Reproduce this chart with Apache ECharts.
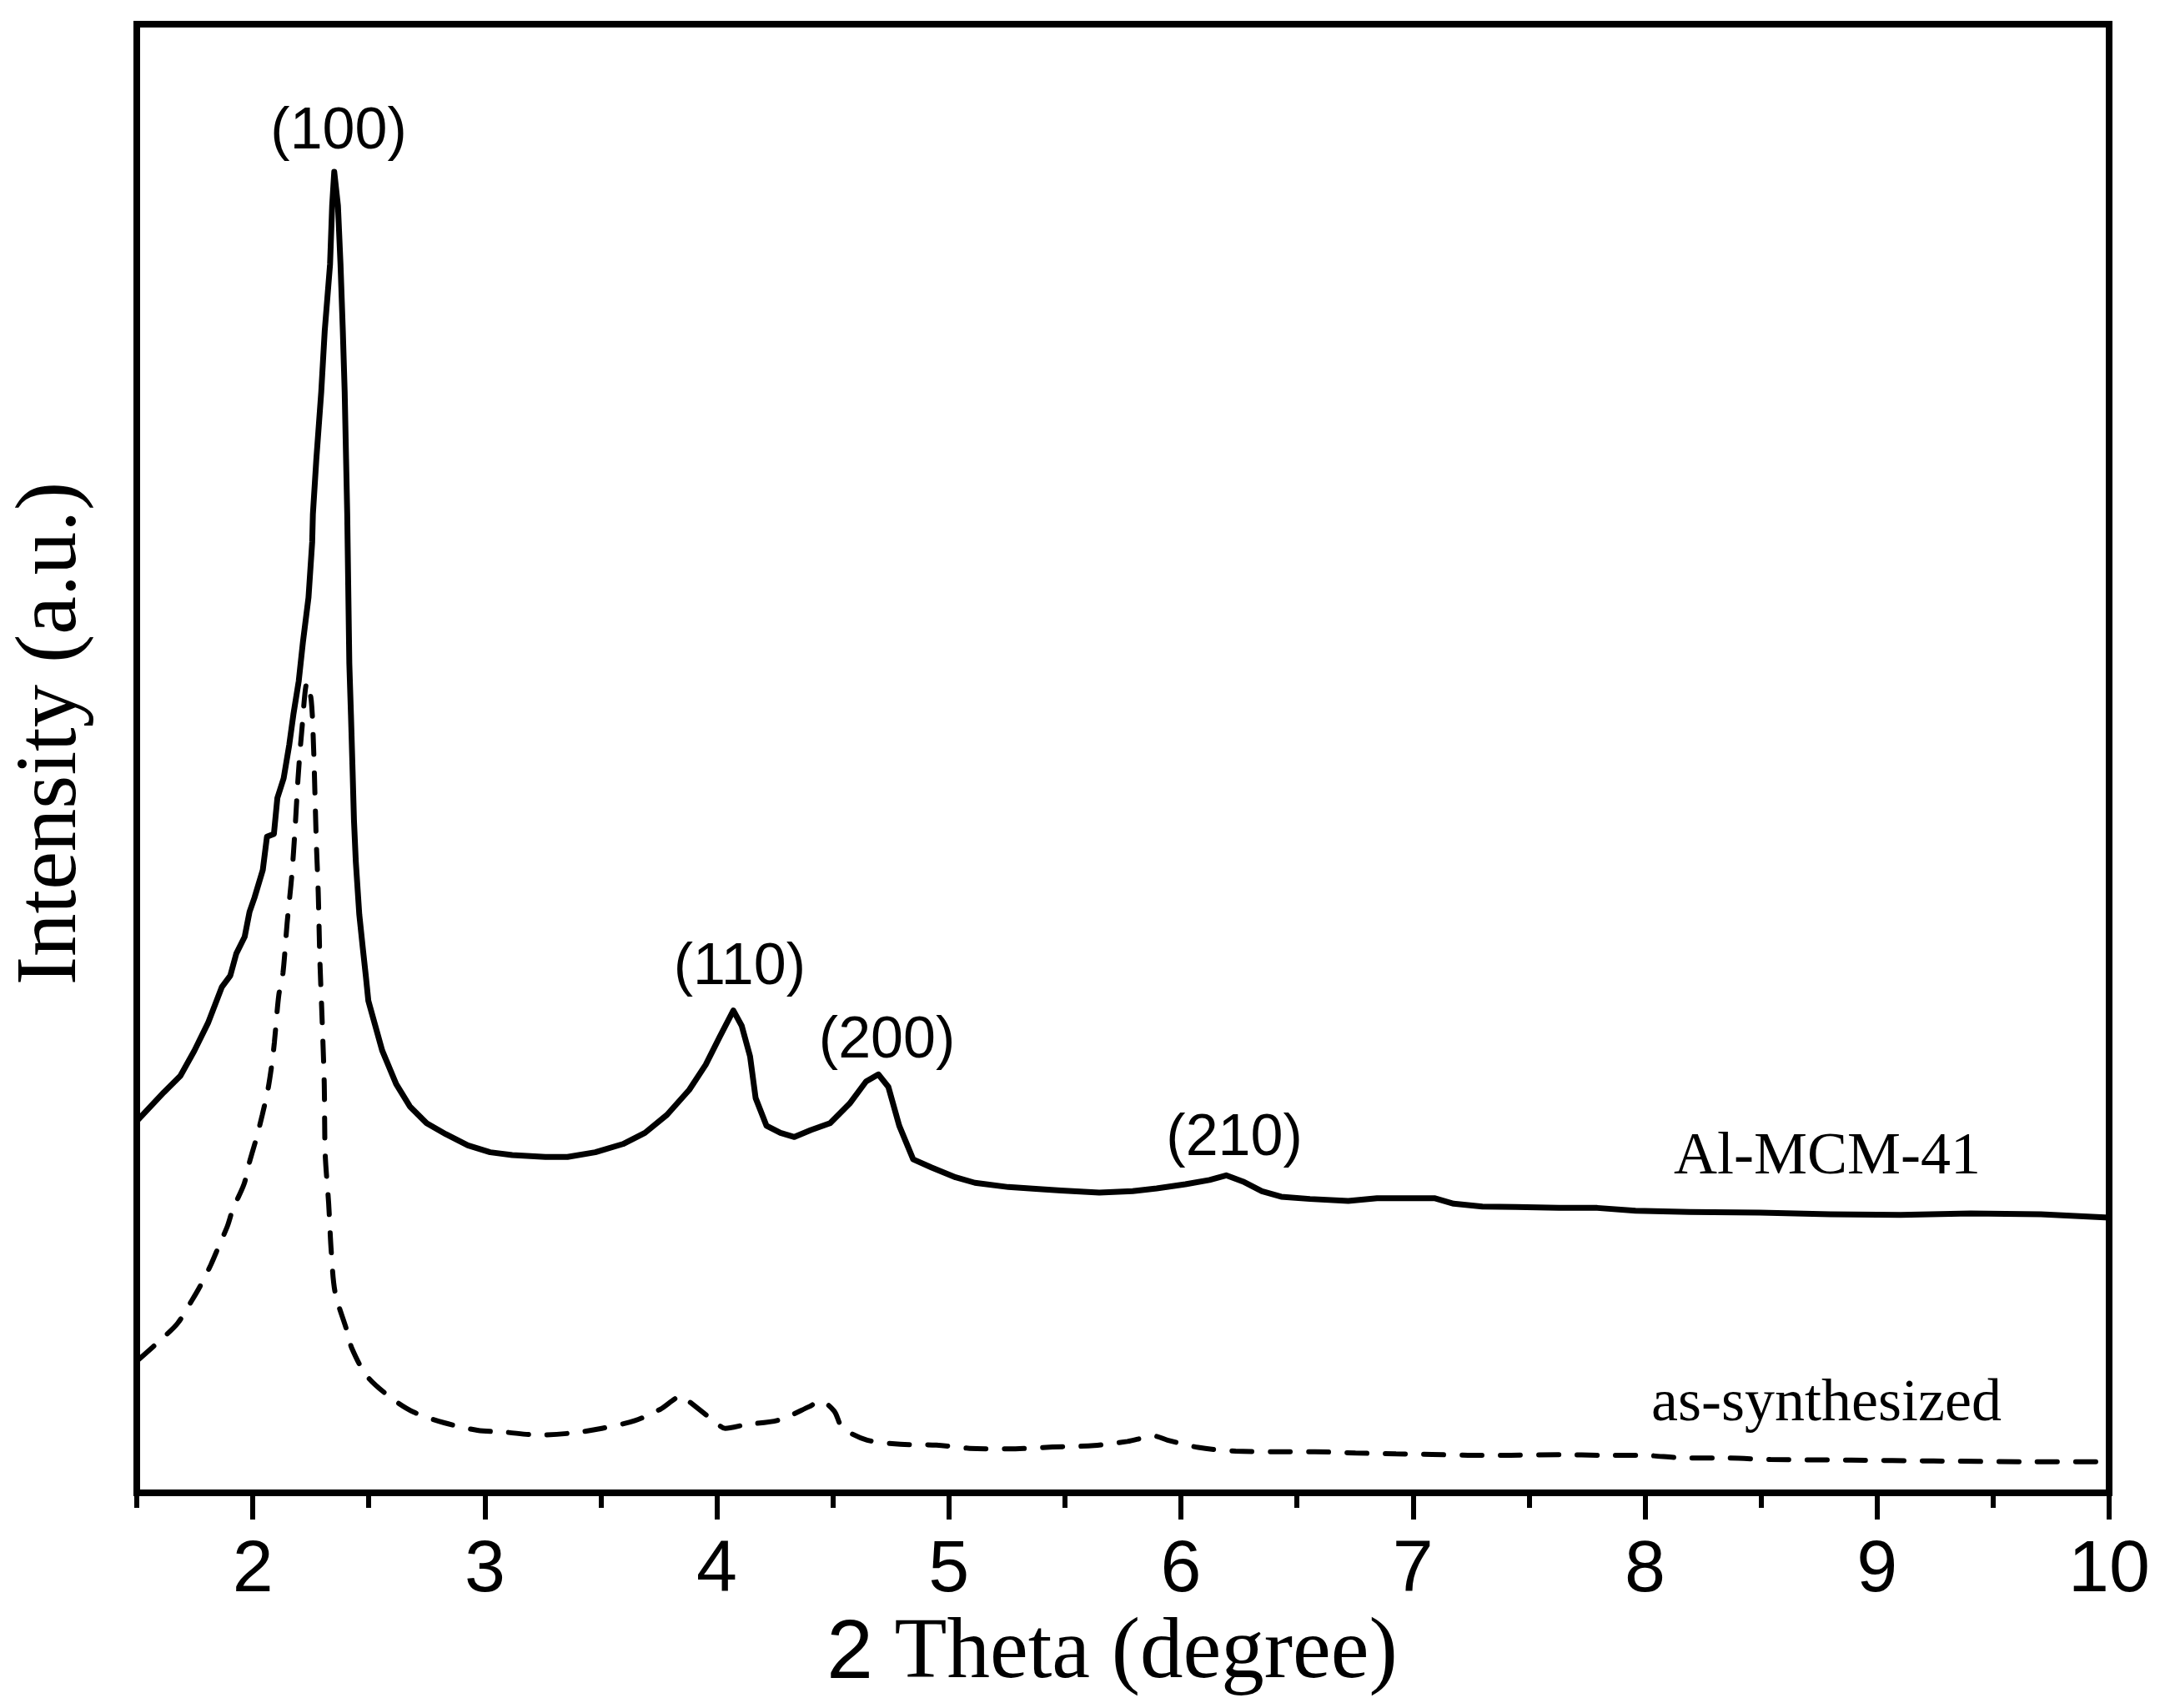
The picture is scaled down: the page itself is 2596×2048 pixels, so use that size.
<!DOCTYPE html>
<html>
<head>
<meta charset="utf-8">
<title>XRD Al-MCM-41</title>
<script src="https://cdn.jsdelivr.net/npm/echarts@6/dist/echarts.min.js"></script>
<style>
  html, body { margin: 0; padding: 0; background: #fff; }
  #chart { width: 2596px; height: 2048px; }
</style>
</head>
<body>
<div id="chart"></div>
<script>
// 2 theta (degree) / intensity (a.u., 0-100 of the frame height)
const alMcmX = [1.504,1.616,1.688,1.748,1.807,1.867,1.903,1.929,1.965,1.986,2.007,2.043,2.061,2.091,2.106,2.133,2.157,2.175,2.198,2.216,2.240,2.256,2.259,2.274,2.295,2.310,2.333,2.342,2.351,2.367,2.378,2.388,2.396,2.402,2.407,2.412,2.416,2.423,2.430,2.436,2.444,2.459,2.474,2.487,2.498,2.558,2.618,2.677,2.749,2.832,2.927,3.023,3.118,3.261,3.356,3.476,3.595,3.690,3.785,3.881,3.952,4.012,4.071,4.107,4.143,4.167,4.214,4.274,4.334,4.405,4.488,4.572,4.643,4.696,4.739,4.786,4.846,4.926,5.029,5.112,5.256,5.401,5.483,5.648,5.792,5.895,6.019,6.123,6.195,6.267,6.349,6.432,6.556,6.721,6.845,6.968,7.092,7.175,7.299,7.443,7.629,7.794,7.959,8.193,8.495,8.798,9.101,9.403,9.706,10.0];
const alMcmY = [25.38,27.26,28.39,30.10,31.99,34.45,35.21,36.72,37.86,39.56,40.51,42.40,44.67,44.86,47.32,48.65,50.92,53.00,55.27,57.92,60.95,64.74,66.63,70.41,74.96,79.12,83.66,87.64,89.95,87.64,83.66,79.12,74.96,70.41,66.63,60.95,56.47,53.00,49.22,45.81,42.97,39.37,37.10,35.21,33.50,30.10,27.83,26.31,25.17,24.42,23.66,23.19,23.00,22.87,22.87,23.19,23.75,24.51,25.74,27.44,29.15,31.04,32.84,31.80,29.72,26.88,24.99,24.51,24.23,24.70,25.17,26.50,28.01,28.49,27.64,24.99,22.71,22.15,21.48,21.11,20.82,20.67,20.59,20.44,20.54,20.73,21.01,21.30,21.62,21.20,20.54,20.16,20.01,19.88,20.06,20.06,20.06,19.69,19.49,19.46,19.40,19.40,19.21,19.12,19.08,18.97,18.93,19.03,18.97,18.74];

const asSynX = [1.509,1.616,1.676,1.736,1.771,1.819,1.855,1.891,1.914,1.962,1.986,2.017,2.041,2.065,2.081,2.093,2.112,2.130,2.148,2.168,2.183,2.195,2.211,2.234,2.252,2.262,2.268,2.274,2.282,2.289,2.298,2.308,2.312,2.327,2.338,2.355,2.403,2.427,2.492,2.599,2.694,2.825,2.968,3.087,3.230,3.374,3.504,3.647,3.755,3.850,3.886,3.993,4.036,4.124,4.267,4.398,4.446,4.505,4.541,4.648,4.791,4.946,5.089,5.256,5.447,5.626,5.769,5.886,5.942,6.074,6.236,6.411,6.577,6.752,6.927,7.082,7.237,7.422,7.639,7.814,7.981,8.178,8.344,8.541,8.889,9.244,9.630,10.0];
const asSynY = [9.09,10.60,11.54,13.06,14.01,15.52,16.85,18.17,19.31,21.01,22.53,24.23,25.74,27.44,29.06,30.66,33.88,35.39,38.80,42.02,45.43,48.65,51.86,55.18,53.95,50.73,47.51,44.20,40.89,36.34,32.56,27.83,23.09,19.69,16.47,13.63,11.17,9.84,7.95,6.43,5.49,4.77,4.26,4.13,3.94,4.07,4.39,4.92,5.68,6.59,6.15,4.83,4.39,4.64,4.96,5.87,6.25,5.58,4.45,3.59,3.31,3.25,3.03,2.99,3.12,3.22,3.50,3.86,3.59,3.09,2.84,2.80,2.80,2.71,2.65,2.61,2.56,2.56,2.60,2.56,2.56,2.37,2.37,2.27,2.23,2.17,2.12,2.12];

// x axis ticks
const majorTicks = [2, 3, 4, 5, 6, 7, 8, 9, 10];
const minorTicks = [1.5, 2.5, 3.5, 4.5, 5.5, 6.5, 7.5, 8.5, 9.5];

// reflection labels (anchored at the bottom of the digits)
const peakNames = ['(100)', '(110)', '(200)', '(210)'];
const peakX = [2.370, 4.098, 4.733, 6.230];
const peakY = [91.3, 34.36, 29.38, 22.71];

// sample labels (left edge, baseline)
const sampleNames = ['Al-MCM-41', 'as-synthesized'];
const sampleX = [8.124, 8.027];
const sampleY = [21.47, 4.66];

const zip = (xs, ys) => xs.map((x, i) => [x, ys[i]]);

const chart = echarts.init(document.getElementById('chart'));

const option = {
  backgroundColor: '#fff',
  animation: false,
  grid: {
    left: 164, right: 67, top: 29, bottom: 258,
    show: true, borderColor: '#000', borderWidth: 8,
    containLabel: false
  },
  xAxis: [{
    type: 'value', min: 1.5, max: 10, position: 'bottom',
    axisLine: { show: true, lineStyle: { color: '#000', width: 8 } },
    axisTick: { show: true, inside: false, length: 32, lineStyle: { color: '#000', width: 6 }, customValues: majorTicks },
    axisLabel: { show: true, margin: 50, color: '#000', fontFamily: 'Liberation Sans', fontSize: 88, customValues: majorTicks },
    splitLine: { show: false },
    name: '{s|2}{t| Theta (degree)}',
    nameLocation: 'middle', nameGap: 129,
    nameTextStyle: {
      padding: [0, 26, 0, 0],
      rich: {
        s: { fontFamily: 'Liberation Sans', fontSize: 100, color: '#000' },
        t: { fontFamily: 'Liberation Serif', fontSize: 103, color: '#000' }
      }
    }
  }, {
    // minor ticks at the half degrees
    type: 'value', min: 1.5, max: 10, position: 'bottom',
    axisLine: { show: false },
    axisTick: { show: true, inside: false, length: 18, lineStyle: { color: '#000', width: 6 }, customValues: minorTicks },
    axisLabel: { show: false },
    splitLine: { show: false }
  }],
  yAxis: {
    type: 'value', min: 0, max: 100,
    axisLine: { show: false }, axisTick: { show: false }, axisLabel: { show: false },
    splitLine: { show: false },
    name: 'Intensity (a.u.)',
    nameLocation: 'middle', nameGap: 50, nameRotate: 90,
    nameTextStyle: { fontFamily: 'Liberation Serif', fontSize: 103, color: '#000', padding: [0, 0, 0, 60] }
  },
  series: [{
    name: 'Al-MCM-41', type: 'line', data: zip(alMcmX, alMcmY),
    showSymbol: false, smooth: false,
    lineStyle: { color: '#000', width: 7, join: 'round' }
  }, {
    name: 'as-synthesized', type: 'line', data: zip(asSynX, asSynY),
    showSymbol: false, smooth: 0.3,
    lineStyle: { color: '#000', width: 6, type: [24, 22], cap: 'round' }
  }, {
    name: 'peaks', type: 'scatter', symbolSize: 0, silent: true,
    itemStyle: { opacity: 1 },
    data: peakNames.map((n, i) => ({ name: n, value: [peakX[i], peakY[i]] })),
    label: {
      show: true, formatter: '{b}', position: [0, 0], align: 'center', verticalAlign: 'bottom',
      offset: [0, 11], lineHeight: 70, opacity: 1,
      fontFamily: 'Liberation Sans', fontSize: 70, color: '#000'
    }
  }, {
    name: 'samples', type: 'scatter', symbolSize: 0, silent: true,
    itemStyle: { opacity: 1 },
    data: sampleNames.map((n, i) => ({ name: n, value: [sampleX[i], sampleY[i]] })),
    label: {
      show: true, formatter: '{b}', position: [0, 0], align: 'left', verticalAlign: 'bottom',
      offset: [0, 12], lineHeight: 72, opacity: 1,
      fontFamily: 'Liberation Serif', fontSize: 72, color: '#000'
    }
  }]
};

chart.setOption(option);
window.addEventListener('resize', function () {
  chart.resize();
});
</script>
</body>
</html>
